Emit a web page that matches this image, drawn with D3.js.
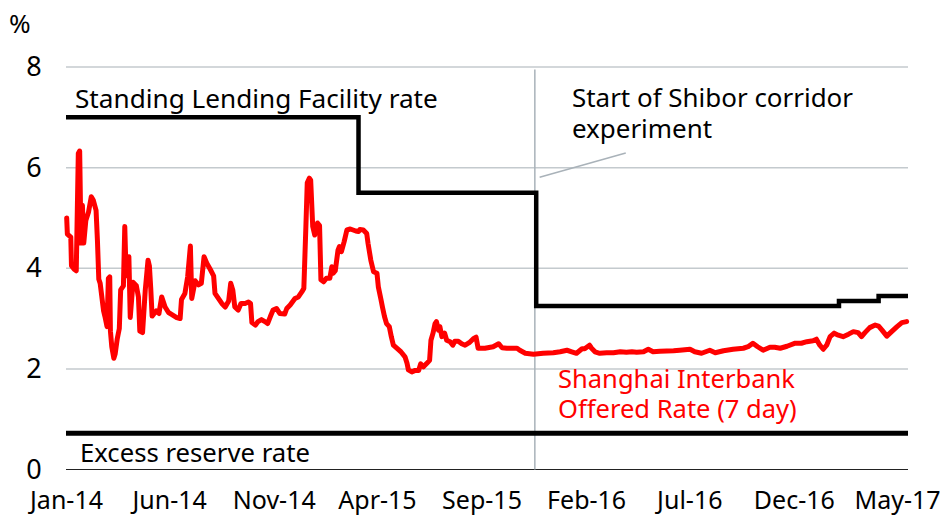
<!DOCTYPE html>
<html>
<head>
<meta charset="utf-8">
<script src="https://cdn.jsdelivr.net/npm/d3@7"></script>
<style>
  html, body { margin: 0; padding: 0; background: #ffffff; }
  svg { display: block; }
  text { font-family: "Noto Sans", "Open Sans", sans-serif; }
</style>
</head>
<body>
<svg id="chart" width="946" height="516"></svg>
<script>
// ---------------- DATA ----------------
const xTickLabels = ["Jan-14", "Jun-14", "Nov-14", "Apr-15", "Sep-15", "Feb-16", "Jul-16", "Dec-16", "May-17"];
const xTickDates  = ["2014-01-01", "2014-06-01", "2014-11-01", "2015-04-01", "2015-09-01", "2016-02-01", "2016-07-01", "2016-12-01", "2017-05-01"];
const yTicks = [0, 2, 4, 6, 8];
const xDomain = ["2014-01-01", "2017-05-17"];

// Shanghai Interbank Offered Rate (7 day), %
const shiborDates = [
  "2014-01-02","2014-01-03","2014-01-08","2014-01-09","2014-01-13","2014-01-16","2014-01-19","2014-01-21","2014-01-23","2014-01-25",
  "2014-01-27","2014-01-30","2014-02-03","2014-02-07","2014-02-10","2014-02-14","2014-02-16","2014-02-18","2014-02-20","2014-02-25",
  "2014-02-27","2014-03-02","2014-03-04","2014-03-06","2014-03-07","2014-03-09","2014-03-12","2014-03-14","2014-03-17","2014-03-20",
  "2014-03-22","2014-03-26","2014-03-28","2014-03-30","2014-04-03","2014-04-05","2014-04-09","2014-04-14","2014-04-17","2014-04-19",
  "2014-04-23","2014-04-27","2014-05-01","2014-05-03","2014-05-05","2014-05-07","2014-05-13","2014-05-17","2014-05-21","2014-05-26",
  "2014-05-31","2014-06-05","2014-06-12","2014-06-17","2014-06-19","2014-06-24","2014-06-28","2014-07-02","2014-07-04","2014-07-09",
  "2014-07-14","2014-07-18","2014-07-22","2014-07-26","2014-07-31","2014-08-05","2014-08-07","2014-08-12","2014-08-17","2014-08-22",
  "2014-08-27","2014-08-30","2014-09-02","2014-09-05","2014-09-10","2014-09-14","2014-09-20","2014-09-25","2014-09-28","2014-09-30",
  "2014-10-05","2014-10-09","2014-10-14","2014-10-19","2014-10-23","2014-10-27","2014-10-31","2014-11-05","2014-11-10","2014-11-17",
  "2014-11-20","2014-11-25","2014-12-02","2014-12-07","2014-12-12","2014-12-15","2014-12-18","2014-12-20","2014-12-23","2014-12-25",
  "2014-12-28","2014-12-31","2015-01-04","2015-01-07","2015-01-09","2015-01-13","2015-01-17","2015-01-22","2015-01-25","2015-01-27",
  "2015-01-30","2015-02-03","2015-02-05","2015-02-08","2015-02-12","2015-02-16","2015-02-21","2015-02-25","2015-03-01","2015-03-05",
  "2015-03-07","2015-03-12","2015-03-17","2015-03-19","2015-03-23","2015-03-27","2015-04-01","2015-04-03","2015-04-07","2015-04-09",
  "2015-04-12","2015-04-15","2015-04-19","2015-04-22","2015-04-25","2015-04-30","2015-05-06","2015-05-12","2015-05-15","2015-05-17",
  "2015-05-22","2015-05-27","2015-06-01","2015-06-04","2015-06-08","2015-06-13","2015-06-17","2015-06-19","2015-06-22","2015-06-25",
  "2015-06-27","2015-06-30","2015-07-02","2015-07-05","2015-07-09","2015-07-12","2015-07-17","2015-07-21","2015-07-24","2015-07-29",
  "2015-08-03","2015-08-08","2015-08-14","2015-08-20","2015-08-24","2015-08-27","2015-09-06","2015-09-18","2015-09-26","2015-10-01",
  "2015-10-08","2015-10-23","2015-10-27","2015-11-04","2015-11-16","2015-11-30","2015-12-15","2015-12-25","2016-01-04","2016-01-11",
  "2016-01-18","2016-01-26","2016-01-30","2016-02-06","2016-02-09","2016-02-14","2016-02-21","2016-03-02","2016-03-12","2016-03-22",
  "2016-03-31","2016-04-08","2016-04-15","2016-04-25","2016-05-02","2016-05-09","2016-05-19","2016-06-08","2016-06-17","2016-07-02",
  "2016-07-09","2016-07-19","2016-07-31","2016-08-08","2016-08-20","2016-09-03","2016-09-18","2016-09-25","2016-10-02","2016-10-09",
  "2016-10-17","2016-10-27","2016-11-03","2016-11-11","2016-11-21","2016-12-03","2016-12-12","2016-12-20","2016-12-29","2017-01-03",
  "2017-01-08","2017-01-13","2017-01-18","2017-01-23","2017-01-29","2017-02-04","2017-02-11","2017-02-19","2017-02-26","2017-03-05",
  "2017-03-10","2017-03-15","2017-03-22","2017-03-30","2017-04-04","2017-04-09","2017-04-16","2017-04-23","2017-05-01","2017-05-08",
  "2017-05-15"
];
const shiborValues = [
  5.00,4.68,4.62,4.05,3.98,3.95,6.28,6.33,4.50,5.25,
  4.50,4.95,5.12,5.42,5.35,5.15,4.55,3.78,3.70,3.15,
  3.04,2.84,3.80,3.83,2.75,2.44,2.21,2.30,2.60,2.80,
  3.57,3.65,4.83,3.85,4.23,3.02,3.72,3.65,3.43,2.75,
  2.72,3.57,4.16,4.05,3.60,3.05,3.15,3.10,3.43,3.23,
  3.12,3.08,3.02,3.00,3.38,3.50,3.83,4.44,3.40,3.75,
  3.67,3.70,4.23,4.10,3.98,3.85,3.50,3.40,3.30,3.23,
  3.35,3.70,3.57,3.23,3.17,3.30,3.30,3.33,3.30,2.92,
  2.87,2.94,2.98,2.94,2.90,3.04,3.17,3.20,3.10,3.09,
  3.20,3.27,3.40,3.43,3.53,3.60,4.83,5.70,5.79,5.75,
  4.83,4.66,4.90,4.85,3.77,3.73,3.80,3.80,4.03,3.90,
  3.95,4.36,4.43,4.33,4.53,4.76,4.78,4.76,4.74,4.73,
  4.77,4.76,4.69,4.49,4.16,3.93,3.90,3.63,3.37,3.23,
  3.04,2.90,2.84,2.64,2.47,2.41,2.34,2.24,2.11,1.98,
  1.94,1.97,1.97,2.10,2.04,2.11,2.17,2.57,2.71,2.90,
  2.94,2.77,2.84,2.64,2.71,2.57,2.54,2.47,2.55,2.55,
  2.50,2.47,2.52,2.60,2.63,2.41,2.41,2.44,2.50,2.42,
  2.41,2.41,2.37,2.31,2.29,2.31,2.32,2.34,2.37,2.34,
  2.31,2.40,2.40,2.47,2.41,2.34,2.31,2.32,2.32,2.34,
  2.33,2.34,2.33,2.34,2.39,2.34,2.35,2.36,2.37,2.39,
  2.34,2.31,2.37,2.32,2.36,2.39,2.41,2.44,2.51,2.44,
  2.37,2.43,2.43,2.41,2.45,2.51,2.51,2.54,2.56,2.59,
  2.47,2.39,2.47,2.64,2.71,2.67,2.64,2.69,2.74,2.72,
  2.64,2.72,2.82,2.87,2.85,2.77,2.65,2.74,2.84,2.92,
  2.94
];

// Standing Lending Facility rate (step changes), %
const slfDates  = ["2014-01-01", "2015-03-05", "2015-11-20", "2017-02-05", "2017-04-04", "2017-05-17"];
const slfValues = [7.00, 5.50, 3.25, 3.35, 3.45, 3.45];

// Excess reserve rate, %
const errDates  = ["2014-01-01", "2017-05-17"];
const errValues = [0.72, 0.72];

// Start of Shibor corridor experiment
const corridorDate = "2015-11-18";
const corridorLeader = { from: ["2015-11-25", 5.81], to: ["2016-03-30", 6.29] };

// ---------------- DRAW ----------------
const parse = d3.timeParse("%Y-%m-%d");
const svg = d3.select("#chart");

const x = d3.scaleTime().domain(xDomain.map(parse)).range([66, 908]);
const y = d3.scaleLinear().domain([0, 8]).range([469.5, 67]);

// gridlines
svg.append("g").selectAll("line")
  .data(yTicks.filter(d => d !== 0))
  .join("line")
  .attr("x1", x.range()[0]).attr("x2", x.range()[1])
  .attr("y1", d => y(d)).attr("y2", d => y(d))
  .attr("stroke", "#c4cace").attr("stroke-width", 1.5);

// zero axis line
svg.append("line")
  .attr("x1", x.range()[0]).attr("x2", x.range()[1])
  .attr("y1", y(0)).attr("y2", y(0))
  .attr("stroke", "#222").attr("stroke-width", 1.2);

// y-axis tick labels
const yAxis = d3.axisLeft(y).tickValues(yTicks).tickSize(0).tickPadding(0).tickFormat(d3.format("d"));
const gy = svg.append("g").attr("transform", "translate(40,0)").call(yAxis);
gy.select(".domain").remove();
gy.selectAll("text")
  .attr("x", -6).attr("text-anchor", "middle")
  .style("font-size", "27px").attr("fill", "#000");

// % unit
svg.append("text").attr("x", 9).attr("y", 33).text("%")
  .style("font-size", "26px").attr("fill", "#000");

// x-axis tick labels
const xAxis = d3.axisBottom(x).tickValues(xTickDates.map(parse)).tickSize(0).tickPadding(0)
  .tickFormat((d, i) => xTickLabels[i]);
const gx = svg.append("g").call(xAxis);
gx.select(".domain").remove();
gx.selectAll("text")
  .attr("y", 509).attr("dy", null)
  .style("font-size", "25px").attr("fill", "#000");

// corridor vertical line
svg.append("line")
  .attr("x1", x(parse(corridorDate))).attr("x2", x(parse(corridorDate)))
  .attr("y1", y(7.95)).attr("y2", y(0))
  .attr("stroke", "#a9b2b9").attr("stroke-width", 1.5);

// leader line
svg.append("line")
  .attr("x1", x(parse(corridorLeader.from[0]))).attr("y1", y(corridorLeader.from[1]))
  .attr("x2", x(parse(corridorLeader.to[0]))).attr("y2", y(corridorLeader.to[1]))
  .attr("stroke", "#a9b2b9").attr("stroke-width", 1.5);

// Excess reserve rate
const lineFn = d3.line().x(d => x(d[0])).y(d => y(d[1]));
svg.append("path")
  .datum(errDates.map((d, i) => [parse(d), errValues[i]]))
  .attr("d", lineFn)
  .attr("fill", "none").attr("stroke", "#000").attr("stroke-width", 5);

// SLF step line
svg.append("path")
  .datum(slfDates.map((d, i) => [parse(d), slfValues[i]]))
  .attr("d", lineFn.curve(d3.curveStepAfter))
  .attr("fill", "none").attr("stroke", "#000").attr("stroke-width", 4.5)
  .attr("stroke-linejoin", "miter");

// SHIBOR line
svg.append("path")
  .datum(shiborDates.map((d, i) => [parse(d), shiborValues[i]]))
  .attr("d", d3.line().x(d => x(d[0])).y(d => y(d[1])).curve(d3.curveLinear))
  .attr("fill", "none").attr("stroke", "#ff0000").attr("stroke-width", 5)
  .attr("stroke-linejoin", "round").attr("stroke-linecap", "round");

// annotation texts, fitted to target widths
function label(txt, xx, yy, color, targetW, fixedSize) {
  const t = svg.append("text").attr("x", xx).attr("y", yy).text(txt)
    .attr("fill", color).style("font-size", "24px");
  let size = 24;
  if (fixedSize) size = fixedSize;
  else if (targetW) {
    const w = t.node().getComputedTextLength();
    if (w > 0) size = 24 * targetW / w;
  }
  t.style("font-size", size.toFixed(2) + "px");
  return size;
}
label("Standing Lending Facility rate", 75, 108, "#000", 363);
const sCorr = label("Start of Shibor corridor", 572, 107, "#000", 281);
label("experiment", 572, 138, "#000", null, sCorr);
const sRed = label("Shanghai Interbank", 558, 388, "#ff0000", 237);
label("Offered Rate (7 day)", 558, 418, "#ff0000", null, sRed);
label("Excess reserve rate", 80, 462, "#000", 230);
</script>
</body>
</html>
